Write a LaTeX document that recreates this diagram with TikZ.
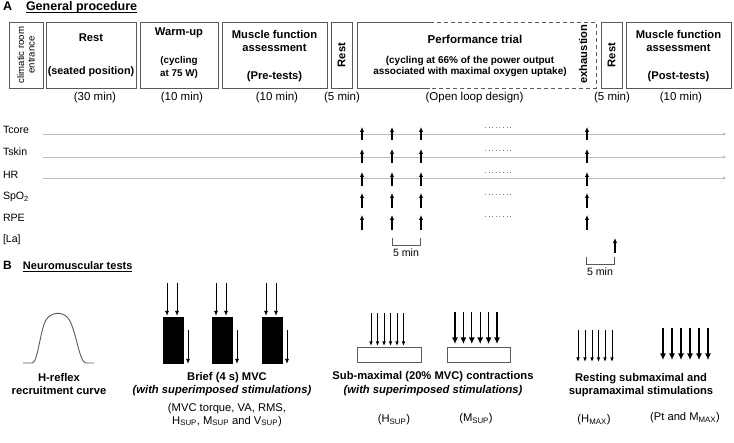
\documentclass[tikz,border=0pt]{standalone}
\usepackage{fontspec}
\setmainfont{Liberation Sans}
\usetikzlibrary{arrows.meta}
\definecolor{boxgray}{HTML}{5A5A5A}
\definecolor{tlgray}{HTML}{BDBDBD}
\newcommand{\fs}[1]{\fontsize{#1}{#1}\selectfont}
\begin{document}
\begin{tikzpicture}[x=1pt,y=-1pt,
  every node/.style={inner sep=0pt,outer sep=0pt},
  box/.style={draw=boxgray,line width=0.9pt},
  tt/.style={font=\fs{11.2}\bfseries,align=center},
  stt/.style={font=\fontsize{9.8}{11}\selectfont\bfseries,align=center},
  dur/.style={font=\fs{11.5}},
  lab/.style={font=\fs{10.6},anchor=west},
  rt/.style={font=\fs{11.2},align=center},
  uparr/.style={-{Latex[length=5pt,width=4.5pt]},line width=1.3pt},
  tline/.style={draw=tlgray,line width=0.8pt,-{Latex[length=4pt,width=3pt]}},
  dots/.style={draw=gray,line width=0.9pt,dash pattern=on 0.9pt off 2.7pt},
  stim/.style={-{Latex[length=5pt,width=4pt]},line width=0.9pt},
  stimb/.style={-{Latex[length=6.5pt,width=6pt]},line width=1.1pt},
  scalebar/.style={draw=boxgray,line width=0.9pt}
]
\useasboundingbox (0,0) rectangle (734,443);

% ---------- Section A title
\node[anchor=base west,font=\fs{12.5}\bfseries] (secA) at (3,11) {A};
\node[anchor=base west,font=\fs{12.5}\bfseries] (secAt) at (26,11) {General procedure};
\draw[line width=0.8pt] (secAt.base west) ++(0,1.5) -- ([yshift=-1.5pt]secAt.base east);

% ---------- Procedure boxes
\node[box,minimum width=34pt,minimum height=66pt] (entr) at (26,55) {};
\node[rotate=90,font=\fontsize{9.6}{10.5}\selectfont,align=center] (entrt) at (26,55) {climatic room\\entrance};

\node[box,minimum width=90pt,minimum height=66pt] (rest1) at (91,55) {};
\node[tt] (rest1a) at (91,38) {Rest};
\node[tt,font=\fs{10.8}\bfseries] (rest1b) at (91,72) {(seated position)};

\node[box,minimum width=78pt,minimum height=66pt] (warm) at (179,55) {};
\node[tt] (warma) at (179,33) {Warm-up};
\node[stt] (warmb) at (179,67.5) {(cycling\\[1.5pt]at 75 W)};

\node[box,minimum width=105pt,minimum height=66pt] (mfa1) at (274.5,55) {};
\node[tt] (mfa1a) at (274.5,41) {Muscle function\\[2.2pt]assessment};
\node[tt] (mfa1b) at (274.5,77) {(Pre-tests)};

\node[box,minimum width=21pt,minimum height=66pt] (rest2) at (341.5,55) {};
\node[tt,rotate=90] (rest2t) at (341.5,55) {Rest};

\node[minimum width=239pt,minimum height=66pt] (perf) at (476.5,55) {};
\draw[box] (430,22) -| (perf.south west) -- (430,88);
\draw[box,dash pattern=on 4pt off 3pt] (430,22) -| (perf.south east) -- (430,88);
\node[tt,font=\fs{11.5}\bfseries] (perfa) at (475,39) {Performance trial};
\node[stt,font=\fontsize{10}{11.3}\selectfont\bfseries] (perfb) at (470,66.5) {(cycling at 66\% of the power output\\associated with maximal oxygen uptake)};
\node[tt,rotate=90] (exh) at (583,54) {exhaustion};

\node[box,minimum width=21pt,minimum height=66pt] (rest3) at (611.5,55) {};
\node[tt,rotate=90] (rest3t) at (611.5,55) {Rest};

\node[box,minimum width=105pt,minimum height=66pt] (mfa2) at (678.5,55) {};
\node[tt] (mfa2a) at (678.5,41) {Muscle function\\[2.2pt]assessment};
\node[tt] (mfa2b) at (678.5,77) {(Post-tests)};

% durations
\node[dur] (d1) at (95,98) {(30 min)};
\node[dur] (d2) at (182,98) {(10 min)};
\node[dur] (d3) at (277,98) {(10 min)};
\node[dur] (d4) at (342,98) {(5 min)};
\node[dur] (d5) at (474.5,98) {(Open loop design)};
\node[dur] (d6) at (612,98) {(5 min)};
\node[dur] (d7) at (681,98) {(10 min)};

% ---------- Time lines
\node[lab] (lTc) at (3,130) {Tcore};
\node[lab] (lTs) at (3,152) {Tskin};
\node[lab] (lHR) at (3,175) {HR};
\node[lab] (lSp) at (3,197) {SpO\textsubscript{2}};
\node[lab] (lRP) at (3,218) {RPE};
\node[lab] (lLa) at (3,240) {[La]};

\coordinate (tcS) at (43,134); \coordinate (tcE) at (727,134);
\coordinate (tsS) at (43,157); \coordinate (tsE) at (727,157);
\coordinate (hrS) at (43,178); \coordinate (hrE) at (727,178);
\draw[tline] (tcS) -- (tcE);
\draw[tline] (tsS) -- (tsE);
\draw[tline] (hrS) -- (hrE);

\foreach \yb/\yt in {140/127, 163/149, 186/172, 208/193, 230/215}{
  \foreach \xx in {362,392,421,587}{
    \draw[uparr] (\xx,\yb) -- (\xx,\yt);
  }
}
\foreach \yy in {127,150,172,194,216}{
  \draw[dots] (485,\yy) -- (511,\yy);
}
\draw[uparr] (615,253) -- (615,238);

% scale bars
\draw[scalebar] (392,238) -- (392,245) -- (420,245) -- (420,238);
\node[font=\fs{10.6}] (s1) at (406,252.5) {5 min};
\draw[scalebar] (586,257) -- (586,264) -- (614,264) -- (614,257);
\node[font=\fs{10.6}] (s2) at (600,271.5) {5 min};

% ---------- Section B title
\node[anchor=base west,font=\fs{12}\bfseries] (secB) at (3,270) {B};
\node[anchor=base west,font=\fs{11}\bfseries] (secBt) at (23,270) {Neuromuscular tests};
\draw[line width=0.8pt] (secBt.base west) ++(0,1.5) -- ([yshift=-1.5pt]secBt.base east);

% H-reflex curve
\draw[line width=0.9pt,draw=boxgray] (23,363) -- (32,363)
  .. controls (38,363) and (40,330) .. (46,320)
  .. controls (51,312) and (62,311) .. (68,318)
  .. controls (76,328) and (79,363) .. (86,363) -- (94,363);
\node[rt,font=\fs{11.2}\bfseries] (hrt) at (59,383.5) {H-reflex\\[1.8pt]recruitment curve};

% Brief MVC
\foreach \xr/\n in {163/1,212/2,262/3}{
  \fill (\xr,317) rectangle ++(20.5,47);
  \draw[stim] (\xr+4,283) -- (\xr+4,316);
  \draw[stim] (\xr+14,283) -- (\xr+14,316);
  \draw[stim] (\xr+25,330) -- (\xr+25,364);
}
\node[tt] (mvca) at (227,378) {Brief (4 s) MVC};
\node[tt,font=\fs{11.2}\bfseries\itshape] (mvcb) at (222,391) {(with superimposed stimulations)};
\node[rt] (mvcc) at (227,415) {(MVC torque, VA, RMS,\\[1.5pt]H\textsubscript{SUP}, M\textsubscript{SUP} and V\textsubscript{SUP})};

% Sub-maximal contractions
\node[box,minimum width=64pt,minimum height=15pt] (sb1) at (389,354.5) {};
\foreach \xx in {371,377.5,384,390.5,397,403.5}{
  \draw[stim,-{Latex[length=4.5pt,width=3.5pt]}] (\xx,313) -- (\xx,346);
}
\node[box,minimum width=63pt,minimum height=15pt] (sb2) at (478.5,354.5) {};
\foreach \xx in {455,463.4,471.8,480.2,488.6,497}{
  \draw[stimb] (\xx,312) -- (\xx,344);
}
\node[tt] (suba) at (433,377) {Sub-maximal (20\% MVC) contractions};
\node[tt,font=\fs{11.2}\bfseries\itshape] (subb) at (433,391) {(with superimposed stimulations)};
\node[rt] (subc) at (394,420) {(H\textsubscript{SUP})};
\node[rt] (subd) at (476,419) {(M\textsubscript{SUP})};

% Resting stimulations
\foreach \xx in {578,585,592,598.5,605,612}{
  \draw[stim,-{Latex[length=4.5pt,width=3.5pt]}] (\xx,330) -- (\xx,362);
}
\foreach \xx in {663,672,681,690,699,708}{
  \draw[stimb] (\xx,328) -- (\xx,360);
}
\node[tt] (resa) at (641,385.5) {Resting submaximal and\\[1.8pt]supramaximal stimulations};
\node[rt] (resb) at (594,420) {(H\textsubscript{MAX})};
\node[rt] (resc) at (685,418) {(Pt and M\textsubscript{MAX})};
\end{tikzpicture}
\end{document}
